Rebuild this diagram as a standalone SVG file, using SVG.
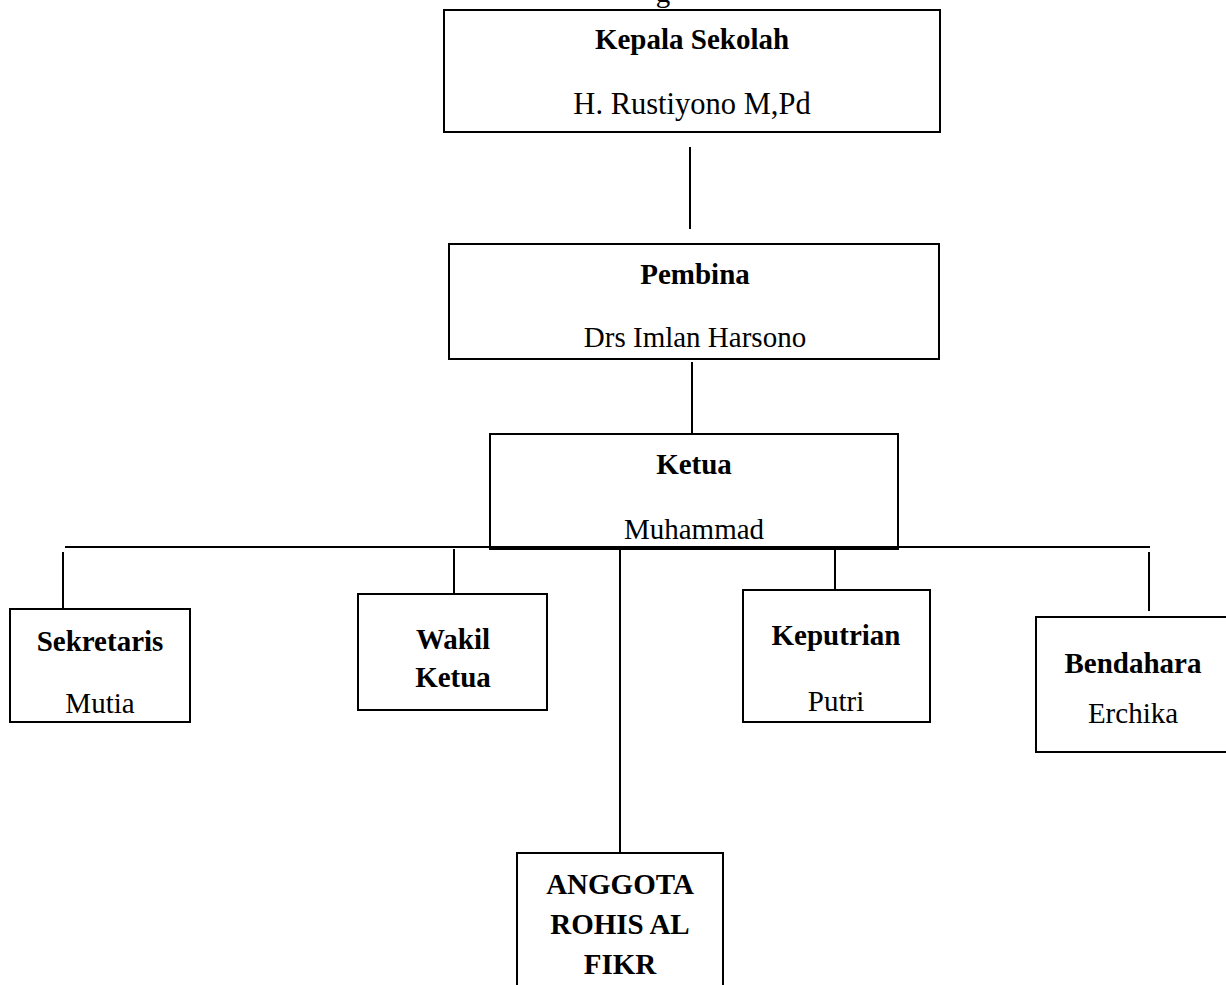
<svg xmlns="http://www.w3.org/2000/svg" width="1226" height="985" viewBox="0 0 1226 985">
<style>
.box{fill:#fff;stroke:#000;stroke-width:2}
.ln{stroke:#000;stroke-width:2;fill:none}
text{font-family:"Liberation Serif","Times New Roman",serif;fill:#000;text-anchor:middle}
.b{font-weight:bold;font-size:29px}
.r{font-size:29px}
</style>
<rect width="1226" height="985" fill="#fff"/>
<text class="r" x="663" y="2">g</text>
<g id="connectors">
<line class="ln" x1="690" y1="147" x2="690" y2="229"/>
<line class="ln" x1="692" y1="362" x2="692" y2="433"/>
<line class="ln" x1="65" y1="547" x2="1150" y2="547"/>
<line class="ln" x1="63" y1="552" x2="63" y2="609"/>
<line class="ln" x1="454" y1="549" x2="454" y2="594"/>
<line class="ln" x1="620" y1="547" x2="620" y2="853"/>
<line class="ln" x1="835" y1="546" x2="835" y2="590"/>
<line class="ln" x1="1149" y1="552" x2="1149" y2="611"/>
</g>
<g id="kepala">
<rect class="box" x="444" y="10" width="496" height="122"/>
<text class="b" x="692" y="49">Kepala Sekolah</text>
<text class="r" x="692" y="114" style="font-size:30.5px">H. Rustiyono M,Pd</text>
</g>
<g id="pembina">
<rect class="box" x="449" y="244" width="490" height="115"/>
<text class="b" x="695" y="284">Pembina</text>
<text class="r" x="695" y="347">Drs Imlan Harsono</text>
</g>
<g id="ketua">
<rect class="box" x="490" y="434" width="408" height="115" style="fill:none"/>
<text class="b" x="694" y="474">Ketua</text>
<text class="r" x="694" y="539">Muhammad</text>
</g>
<g id="sekretaris">
<rect class="box" x="10" y="609" width="180" height="113"/>
<text class="b" x="100" y="651">Sekretaris</text>
<text class="r" x="100" y="713">Mutia</text>
</g>
<g id="wakil">
<rect class="box" x="358" y="594" width="189" height="116"/>
<text class="b" x="453" y="649">Wakil</text>
<text class="b" x="453" y="687">Ketua</text>
</g>
<g id="keputrian">
<rect class="box" x="743" y="590" width="187" height="132"/>
<text class="b" x="836" y="645">Keputrian</text>
<text class="r" x="836" y="711">Putri</text>
</g>
<g id="bendahara">
<rect class="box" x="1036" y="617" width="196" height="135"/>
<text class="b" x="1133" y="673">Bendahara</text>
<text class="r" x="1133" y="723">Erchika</text>
</g>
<g id="anggota">
<path class="box" d="M517 986 V853 H723 V986"/>
<text class="b" x="620" y="894">ANGGOTA</text>
<text class="b" x="620" y="934">ROHIS AL</text>
<text class="b" x="620" y="974">FIKR</text>
</g>
</svg>
